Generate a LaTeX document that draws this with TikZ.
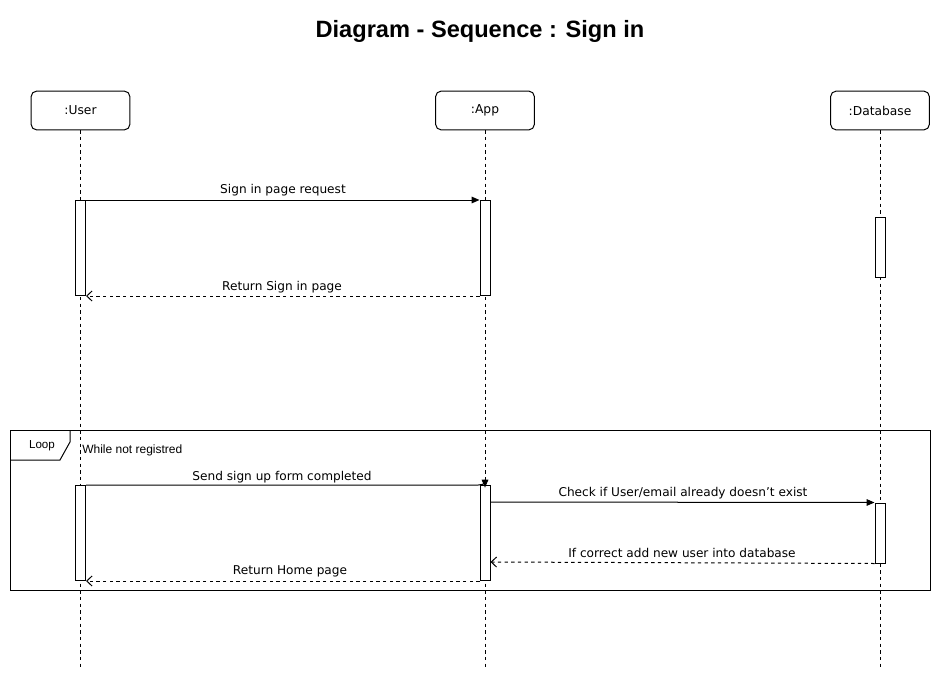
\documentclass[tikz,border=0pt]{standalone}
\usepackage{fontspec}
\setmainfont{DejaVu Sans}
\newfontfamily\helv{Liberation Sans}
\usepackage{tikz}
\usetikzlibrary{arrows.meta}

\begin{document}
\begin{tikzpicture}[x=0.75pt,y=-0.75pt,
  head/.style={draw,rounded corners=4pt,minimum width=74pt,minimum height=29pt,inner sep=0pt,font=\fontsize{9.2}{11}\selectfont,line width=0.75pt},
  bar/.style={draw,fill=white,minimum width=7.5pt,inner sep=0pt,anchor=north,line width=0.75pt},
  life/.style={dash pattern=on 2.5pt off 2.5pt,line width=0.75pt},
  msg/.style={line width=0.75pt,-{Triangle[length=6pt,width=5pt]}},
  ret/.style={line width=0.75pt,dash pattern=on 2.5pt off 2.5pt,-{Straight Barb[length=4pt,width=7.5pt]}},
  lbl/.style={font=\fontsize{9.1}{11}\selectfont,inner sep=1pt}]
\useasboundingbox (0,0) rectangle (941,681);

\node[font=\helv\bfseries\fontsize{17.7}{20}\selectfont] (title) at (480,31) {Diagram - Sequence : Sign in};

% lifeline heads
\node[head] (user) at (80.5,110.5) {:User};
\node[head] (app) at (485,110.5) {:App};
\node[head] (db) at (880,110.5) {:Database};

\coordinate (userend) at (80.5,667);
\coordinate (append) at (485,667);
\coordinate (dbend) at (880,667);

\draw[life] (user)--(userend);
\draw[life] (app)--(append);
\draw[life] (db)--(dbend);

% loop frame
\draw[line width=0.75pt] (10,430) rectangle (930,590);
\draw[line width=0.75pt] (10,460)--(60,460)--(70,442)--(70,430);
\node[font=\helv\fontsize{8.7}{10}\selectfont] (looplbl) at (42,446) {Loop};
\node[font=\helv\fontsize{9}{10}\selectfont,anchor=west,inner sep=0pt] (guard) at (82,450) {While not registred};

% activation bars
\node[bar,minimum height=71.25pt] (u1) at (80.5,200) {};
\node[bar,minimum height=71.25pt] (a1) at (485,200) {};
\node[bar,minimum height=45pt] (d1) at (880,217) {};
\node[bar,minimum height=71.25pt] (u2) at (80.5,485) {};
\node[bar,minimum height=71.25pt] (a2) at (485,485) {};
\node[bar,minimum height=45pt] (d2) at (880,502.5) {};

% messages
\draw[msg] (u1.north east)--(a1.north west);
\node[lbl] (m1) at (283,190) {Sign in page request};

\draw[ret] (a1.south west)--(u1.south east);
\node[lbl] (m2) at (282,287) {Return Sign in page};

\draw[msg] (u2.north east)--([xshift=-5pt]a2.north) to[out=0,in=90] ([yshift=-2pt]a2.north);
\node[lbl] (m3) at (282,477) {Send sign up form completed};

\draw[msg] ([yshift=-12.75pt]a2.north east)--(d2.north west);
\node[lbl] (m4) at (683,493) {Check if User/email already doesn't exist};

\draw[ret] (d2.south west)--([yshift=-57.75pt]a2.north east);
\node[lbl] (m5) at (682,553) {If correct add new user into database};

\draw[ret] (a2.south west)--(u2.south east);
\node[lbl] (m6) at (290,571) {Return Home page};

\end{tikzpicture}
\end{document}
